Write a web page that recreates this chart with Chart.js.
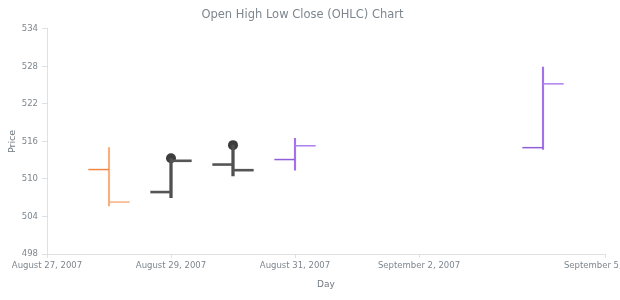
<!DOCTYPE html>
<html>
<head>
<meta charset="utf-8">
<script src="https://cdn.jsdelivr.net/npm/chart.js@4/dist/chart.umd.min.js"></script>
<style>
  html, body { margin: 0; padding: 0; background: #fff; }
  #wrap { width: 620px; height: 300px; position: relative; overflow: hidden; }
</style>
</head>
<body>
<div id="wrap"><canvas id="c" width="620" height="300"></canvas></div>
<script>
// ---- data (days counted from August 27, 2007) ----
const categories = ['August 28, 2007', 'August 29, 2007', 'August 30, 2007', 'August 31, 2007', 'September 4, 2007'];
const dayIndex = [1, 2, 3, 4, 8];
const openValues  = [511.5, 507.9, 512.3, 513.1, 515.0];
const highValues  = [515.0, 513.3, 515.4, 516.5, 527.9];
const lowValues   = [505.7, 507.0, 510.5, 511.4, 514.7];
const closeValues = [506.3, 512.9, 511.4, 515.3, 525.2];
const seriesGroup = ['orange', 'dark', 'dark', 'purple', 'purple'];
const tickDays = [0, 2, 4, 6, 9];
const tickLabels = ['August 27, 2007', 'August 29, 2007', 'August 31, 2007', 'September 2, 2007', 'September 5, 2007'];
const yTicks = [498, 504, 510, 516, 522, 528, 534];

const styles = {
  orange: { wick: '#f7b07f', open: '#ee8744', close: '#f7b07f', width: 1.5 },
  dark:   { wick: '#4f4f4f', open: '#555555', close: '#555555', width: 2.6 },
  purple: { wick: '#a571e8', open: '#8e5fd9', close: '#ac80ec', width: 1.5 }
};

function wickData(group) {
  return dayIndex.map((d, i) => seriesGroup[i] === group ? { x: d, y: [lowValues[i], highValues[i]] } : null).filter(Boolean);
}

const FONT = "'DejaVu Sans', sans-serif";
const GREY = '#7d868e';
const LINE = '#dde1e4';

const ohlcTicks = {
  id: 'ohlcTicks',
  afterDatasetsDraw(chart) {
    const ctx = chart.ctx;
    const xs = chart.scales.x, ys = chart.scales.y;
    ctx.save();
    dayIndex.forEach((d, i) => {
      const st = styles[seriesGroup[i]];
      const xc = xs.getPixelForValue(d);
      const xl = xs.getPixelForValue(d - 1 / 3);
      const xr = xs.getPixelForValue(d + 1 / 3);
      ctx.lineWidth = st.width;
      ctx.strokeStyle = st.open;
      ctx.beginPath();
      ctx.moveTo(xl, ys.getPixelForValue(openValues[i]));
      ctx.lineTo(xc, ys.getPixelForValue(openValues[i]));
      ctx.stroke();
      ctx.strokeStyle = st.close;
      ctx.beginPath();
      ctx.moveTo(xc, ys.getPixelForValue(closeValues[i]));
      ctx.lineTo(xr, ys.getPixelForValue(closeValues[i]));
      ctx.stroke();
    });
    ctx.restore();
  }
};

new Chart(document.getElementById('c'), {
  data: {
    datasets: [
      { type: 'bar', label: 'orange', data: wickData('orange'), backgroundColor: styles.orange.wick, barThickness: 1.5, grouped: false, borderWidth: 0 },
      { type: 'bar', label: 'dark', data: wickData('dark'), backgroundColor: styles.dark.wick, barThickness: 2.6, grouped: false, borderWidth: 0 },
      { type: 'bar', label: 'purple', data: wickData('purple'), backgroundColor: styles.purple.wick, barThickness: 1.5, grouped: false, borderWidth: 0 },
      { type: 'scatter', label: 'marker',
        data: dayIndex.map((d, i) => seriesGroup[i] === 'dark' ? { x: d, y: highValues[i] } : null).filter(Boolean),
        pointRadius: 5, pointBackgroundColor: '#3c3c3c', pointBorderWidth: 0 }
    ]
  },
  options: {
    responsive: false,
    animation: false,
    devicePixelRatio: 1,
    layout: { padding: { left: 0, right: 15, top: 0, bottom: 0 } },
    plugins: {
      legend: { display: false },
      tooltip: { enabled: false },
      title: {
        display: true,
        text: 'Open High Low Close (OHLC) Chart',
        color: GREY,
        font: { family: FONT, size: 11.5, weight: 'normal' },
        padding: { top: 8, bottom: 7 }
      }
    },
    scales: {
      x: {
        type: 'linear',
        min: 0, max: 9,
        offset: false,
        afterBuildTicks: (s) => { s.ticks = tickDays.map(v => ({ value: v })); },
        afterFit: (s) => { s.paddingLeft = 0; s.paddingRight = 0; s.height = 46; },
        ticks: {
          autoSkip: false, maxRotation: 0, minRotation: 0, padding: 3,
          color: GREY, font: { family: FONT, size: 8.5 },
          callback: (v) => { const k = tickDays.indexOf(v); return k >= 0 ? tickLabels[k] : ''; }
        },
        grid: { offset: false, drawOnChartArea: false, drawTicks: true, tickLength: 4, color: LINE },
        border: { color: LINE, width: 1 },
        title: { display: true, text: 'Day', color: '#6f7880', font: { family: FONT, size: 9 }, padding: { top: 4, bottom: 10 } }
      },
      y: {
        type: 'linear',
        min: 498, max: 534,
        afterBuildTicks: (s) => { s.ticks = yTicks.map(v => ({ value: v })); },
        afterFit: (s) => { s.width = 47; },
        ticks: { color: GREY, font: { family: FONT, size: 8.5 }, padding: 4 },
        grid: { drawOnChartArea: false, drawTicks: true, tickLength: 5, color: LINE },
        border: { color: LINE, width: 1 },
        title: { display: true, text: 'Price', color: '#6f7880', font: { family: FONT, size: 9.5 }, padding: { top: 7, bottom: 0 } }
      }
    }
  },
  plugins: [ohlcTicks]
});
</script>
</body>
</html>
